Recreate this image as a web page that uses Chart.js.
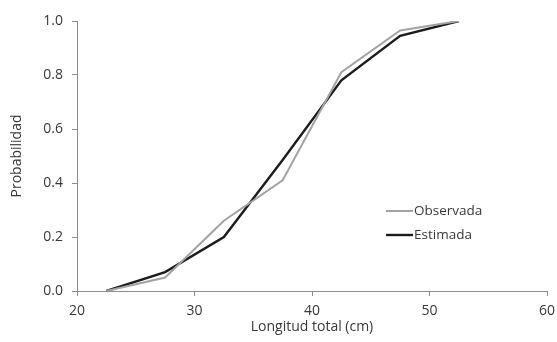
<!DOCTYPE html>
<html>
<head>
<meta charset="utf-8">
<script src="https://cdn.jsdelivr.net/npm/chart.js@4"></script>
<style>
  html, body { margin: 0; padding: 0; background: #fff; }
  #wrap { width: 557px; height: 342px; }
</style>
</head>
<body>
<div id="wrap"><canvas id="chart"></canvas></div>
<script>
'use strict'

/* ------------------------------ Data ------------------------------ */

const lengths = [22.5, 27.5, 32.5, 37.5, 42.5, 47.5, 52.5]
const observada = [0.0, 0.05, 0.26, 0.41, 0.81, 0.965, 1.0]
const estimada = [0.0, 0.07, 0.20, 0.485, 0.78, 0.945, 1.0]
const xTicks = [20, 30, 40, 50, 60]
const yTicks = [0.0, 0.2, 0.4, 0.6, 0.8, 1.0]

const toPoints = values => lengths.map((x, i) => ({ x: x, y: values[i] }))

const textColor = '#383838'
const axisColor = '#8c8c8c'
const fontFamily = '"Open Sans", "Noto Sans", sans-serif'

// Legend sits inside the plot area, like the original
const innerLegend = {
  id: 'innerLegend',
  afterDraw (chart) {
    const ctx = chart.ctx
    const items = chart.data.datasets
    ctx.save()
    ctx.font = '13.5px ' + fontFamily
    ctx.textBaseline = 'middle'
    items.forEach((ds, i) => {
      const y = 211 + i * 24
      ctx.strokeStyle = ds.borderColor
      ctx.lineWidth = ds.borderWidth
      ctx.beginPath()
      ctx.moveTo(386, y)
      ctx.lineTo(413, y)
      ctx.stroke()
      ctx.fillStyle = textColor
      ctx.fillText(ds.label, 414, y)
    })
    ctx.restore()
  }
}

new Chart(document.getElementById('chart'), {
  type: 'line',
  data: {
    datasets: [
      {
        label: 'Observada',
        data: toPoints(observada),
        borderColor: '#a3a3a3',
        borderWidth: 2,
        pointRadius: 0,
        tension: 0
      },
      {
        label: 'Estimada',
        data: toPoints(estimada),
        borderColor: '#1c1c1c',
        borderWidth: 2.4,
        pointRadius: 0,
        tension: 0
      }
    ]
  },
  options: {
    responsive: true,
    maintainAspectRatio: false,
    animation: false,
    layout: { padding: { top: 21, right: 0, left: 0, bottom: 0 } },
    plugins: {
      legend: { display: false },
      tooltip: { enabled: false }
    },
    scales: {
      x: {
        type: 'linear',
        min: 20,
        max: 60,
        afterBuildTicks: scale => { scale.ticks = xTicks.map(v => ({ value: v })) },
        afterFit: scale => { scale.height = 51; scale.paddingRight = 10 },
        border: { color: axisColor, width: 1 },
        grid: { drawOnChartArea: false, tickLength: 5, color: axisColor },
        ticks: { color: textColor, font: { family: fontFamily, size: 14 }, padding: 7, maxRotation: 0 },
        title: {
          display: true,
          text: 'Longitud total (cm)',
          color: textColor,
          font: { family: fontFamily, size: 14 },
          padding: { top: 0, bottom: 7 }
        }
      },
      y: {
        min: 0,
        max: 1,
        afterBuildTicks: scale => { scale.ticks = yTicks.map(v => ({ value: v })) },
        afterFit: scale => { scale.width = 77 },
        border: { color: axisColor, width: 1 },
        grid: { drawOnChartArea: false, tickLength: 5, color: axisColor },
        ticks: {
          color: textColor,
          font: { family: fontFamily, size: 14 },
          padding: 9,
          callback: v => v.toFixed(1)
        },
        title: {
          display: true,
          text: 'Probabilidad',
          color: textColor,
          font: { family: fontFamily, size: 14 },
          padding: { top: 9, bottom: 0 }
        }
      }
    }
  },
  plugins: [innerLegend]
})
</script>
</body>
</html>
